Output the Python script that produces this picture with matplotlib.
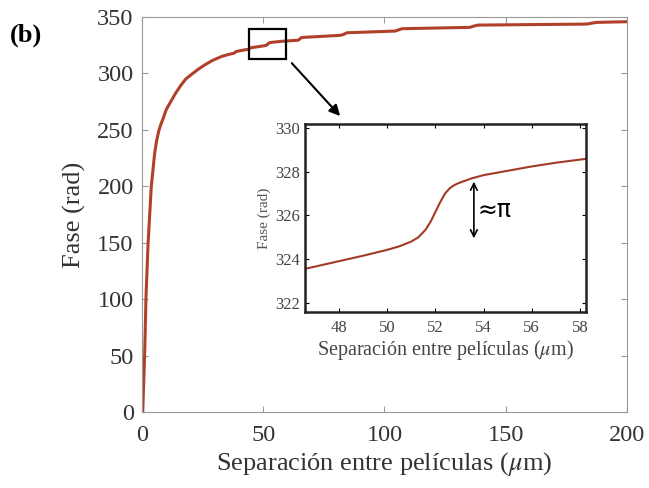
import matplotlib
matplotlib.use("Agg")
import matplotlib.pyplot as plt
from matplotlib.patches import Rectangle

plt.rcParams["font.family"] = ["Liberation Serif", "DejaVu Serif"]
plt.rcParams["mathtext.fontset"] = "stix"

# main curve: phase vs film separation
sep = [0.3, 0.6, 1.1, 1.65, 2.5, 3.8, 5.2, 6.0, 6.9, 7.8, 8.7, 10.0, 12.1,
       14.0, 16.2, 18.0, 20.3, 23.0, 25.8, 29.0, 32.7, 35.5, 38.0, 38.8,
       41.5, 44.0, 44.8, 48.0, 51.0, 51.5, 52.0, 52.5, 53.0,
       58.0, 64.5, 65.5, 66.5, 81.6, 83.0, 84.5, 104.3, 105.6, 107.2,
       135.3, 136.5, 138.5, 183.4, 185.5, 187.5, 200.0]
fase = [0, 20, 52, 102, 149, 199, 229, 240, 249, 255, 260, 268, 276,
        283, 290, 295, 299, 303.5, 307.5, 311.5, 315, 316.8, 318.0, 319.5,
        320.6, 321.5, 322.8, 323.8, 324.8, 325.3, 326.4, 327.2, 327.5,
        328.6, 329.5, 331.5, 332.0, 333.8, 334.5, 336.1, 337.6, 338.5, 339.7,
        340.9, 341.8, 342.9, 343.8, 344.6, 345.3, 345.9]

# inset: zoom around the resonance near 52 um
sep_in = [46.6, 47.0, 48.0, 49.0, 50.0, 50.5, 51.0, 51.3, 51.6, 51.8, 52.0,
          52.2, 52.4, 52.6, 52.8, 53.0, 53.5, 54.0, 55.0, 56.0, 57.0, 58.25]
fase_in = [323.55, 323.65, 323.9, 324.15, 324.42, 324.58, 324.8, 325.0, 325.35,
           325.7, 326.15, 326.6, 327.0, 327.25, 327.4, 327.5, 327.7, 327.85,
           328.05, 328.25, 328.42, 328.6]

line_col = "#b0402a"

fig = plt.figure(figsize=(6.49, 4.88), dpi=100)
ax = fig.add_axes([0.2188, 0.1557, 0.7472, 0.8093])
ax.plot(sep, fase, color=line_col, lw=2.2)
ax.set_xlim(0, 200)
ax.set_ylim(0, 350)
ax.set_xticks([0, 50, 100, 150, 200])
ax.set_yticks(range(0, 351, 50))
ax.tick_params(direction="in", top=True, right=True, labelsize=17.5,
               colors="#999999", labelcolor="#333333", length=4)
ax.tick_params(axis="x", pad=9)
ax.tick_params(axis="y", pad=6)
for s in ax.spines.values():
    s.set_color("#999999")
    s.set_linewidth(0.8)
ax.set_xlabel(r"Separación entre películas ($\mu$m)", fontsize=19, color="#333333",
              labelpad=3)
ax.set_ylabel("Fase (rad)", fontsize=19, color="#333333", labelpad=8)

# zoom box + arrow
ax.add_patch(Rectangle((44.1, 312.8), 15.3, 26.6, fill=False, ec="black", lw=1.6,
                       zorder=5))
ax.annotate("", xy=(82.5, 260.5), xytext=(61, 311),
            arrowprops=dict(arrowstyle="-|>", color="black", lw=1.5,
                            mutation_scale=16))

fig.text(0.015, 0.915, "(b)", fontsize=19, fontweight="bold")

# inset
ins = fig.add_axes([0.47, 0.3607, 0.433, 0.3853])
ins.plot(sep_in, fase_in, color="#a33a26", lw=1.5)
ins.set_xlim(46.6, 58.25)
ins.set_ylim(321.57, 330.2)
ins.set_xticks(range(48, 59, 2))
ins.set_yticks(range(322, 331, 2))
ins.tick_params(direction="in", top=True, right=True, labelsize=12,
                labelcolor="#444444", length=3)
ins.tick_params(axis="x", pad=6)
for s in ins.spines.values():
    s.set_color("#222222")
    s.set_linewidth(1.8)
ins.set_xlabel(r"Separación entre películas ($\mu$m)", fontsize=14.5,
               color="#444444", labelpad=1)
ins.set_ylabel("Fase (rad)", fontsize=11, color="#555555", labelpad=3)
ins.annotate("", xy=(53.6, 327.55), xytext=(53.6, 324.95),
             arrowprops=dict(arrowstyle="<->", color="black", lw=1.2,
                             mutation_scale=12, shrinkA=0, shrinkB=0))
ins.text(53.75, 326.25, "≈π", fontsize=17, family="DejaVu Sans", va="center",
         ha="left")

fig.savefig("out.png", dpi=100)
